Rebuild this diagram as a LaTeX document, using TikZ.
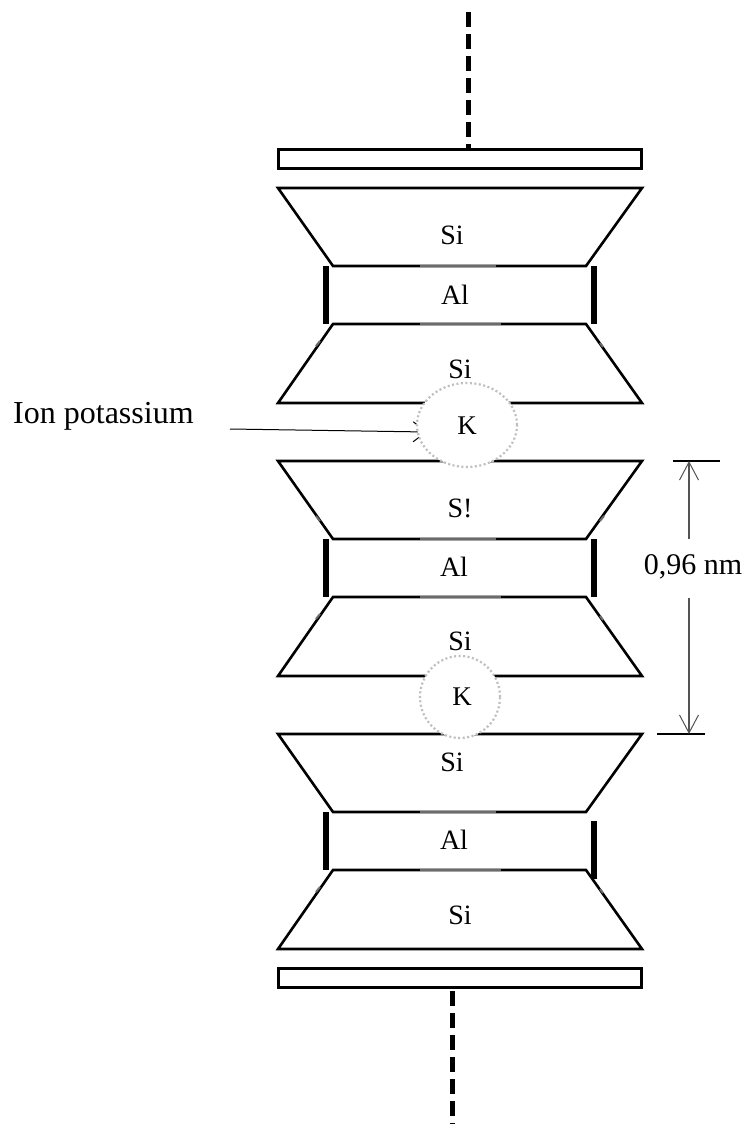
\documentclass[tikz,border=0pt]{standalone}
\usepackage{fontspec}
\setmainfont{Liberation Serif}
\usetikzlibrary{arrows.meta,shapes.geometric}
\definecolor{glitch}{gray}{0.42}
\definecolor{dimcol}{gray}{0.33}
\tikzset{
  x=1pt,y=-1pt,
  outline/.style={draw=black,line width=2.6pt,line join=miter,fill=white},
  sideline/.style={draw=black,line width=6pt},
  axisline/.style={draw=black,line width=5pt,dash pattern=on 15pt off 7pt},
  lbl/.style={inner sep=0pt,font=\fontsize{28}{28}\selectfont},
  ionball/.style={ellipse,draw=black!25,fill=white,line width=2.2pt,dash pattern=on 2pt off 2.5pt,inner sep=0pt},
  dimline/.style={draw=dimcol,line width=1.3pt},
  dimhead/.style={-{Straight Barb[length=18pt,width=19pt,line width=1pt]}},
  limit/.style={draw=black,line width=1.5pt},
  soft/.style={draw=glitch,line width=2.6pt},
  nick/.style={draw=glitch,line width=2pt},
  plate/.style={draw=black,line width=2.6pt,minimum width=363pt,minimum height=19pt,inner sep=0pt,fill=white}
}
\newcommand{\sandwich}[2]{%
  \draw[outline] (278,#1) -- (642,#1) -- (586,#1+78) -- (333,#1+78) -- cycle;
  \draw[outline] (333,#1+136) -- (586,#1+136) -- (642,#1+215) -- (278,#1+215) -- cycle;
  \draw[sideline] (326,#1+78) -- (326,#1+136);
  \draw[sideline] (594,#1+#2) -- (594,#1+#2+58);
  \draw[soft] (420,#1+78) -- (496,#1+78);
  \draw[soft] (420,#1+136) -- (501,#1+136);
  \draw[nick] (316,#1+158) -- (320,#1+153);
  \draw[nick] (600,#1+155) -- (603,#1+159);
}
\begin{document}
\begin{tikzpicture}
\useasboundingbox (0,0) rectangle (744,1124);
\fill[white] (0,0) rectangle (744,1124);
\node[plate] (topplate) at (460,159) {};
\node[plate] (botplate) at (460,978) {};
\coordinate (axtop) at (468,12);
\coordinate (axbot) at (452,1124);
\draw[axisline] (axtop) -- (axtop |- topplate.north);
\draw[axisline] (axbot |- botplate.south) ++(0,2) -- (axbot);
\sandwich{188}{78}
\sandwich{461}{78}
\sandwich{734}{87}
\draw[nick] (316,516) -- (320,521);
\draw[nick] (600,521) -- (604,516);
\coordinate (leaderstart) at (230,429);
\coordinate (leadertip) at (427,432);
\draw[line width=1pt,-{Straight Barb[length=13pt,width=20pt,line width=1pt]}] (leaderstart) -- (leadertip);
\node[ionball,minimum width=100pt,minimum height=84pt] (k1) at (467,425) {};
\node[ionball,minimum width=80pt,minimum height=82pt] (k2) at (460,697) {};
\node[lbl,font=\fontsize{27}{27}\selectfont] (k1txt) at (467,426) {K};
\node[lbl,font=\fontsize{27}{27}\selectfont] (k2txt) at (462,697) {K};
\node[lbl] (si1) at (452,235) {Si};
\node[lbl] (al1) at (455,295) {Al};
\node[lbl] (si2) at (460,369) {Si};
\node[lbl] (si3) at (460,508) {S!};
\node[lbl] (al2) at (454,567) {Al};
\node[lbl] (si4) at (460,641) {Si};
\node[lbl] (si5) at (452,762) {Si};
\node[lbl] (al3) at (454,840) {Al};
\node[lbl] (si6) at (460,915) {Si};
\node[lbl,font=\fontsize{32}{32}\selectfont,anchor=west] (ion) at (13,416) {Ion potassium};
\coordinate (dimtop) at (689,461);
\coordinate (dimbot) at (689,734);
\coordinate (dimupper) at (689,539);
\coordinate (dimlower) at (689,598);
\draw[limit] (673,461) -- (720,461);
\draw[limit] (657,734) -- (705,734);
\node[lbl,font=\fontsize{30}{30}\selectfont] (dimtext) at (693,567) {0,96 nm};
\draw[dimline,dimhead] (dimupper) -- (dimtop);
\draw[dimline,dimhead] (dimlower) -- (dimbot);
\end{tikzpicture}
\end{document}
